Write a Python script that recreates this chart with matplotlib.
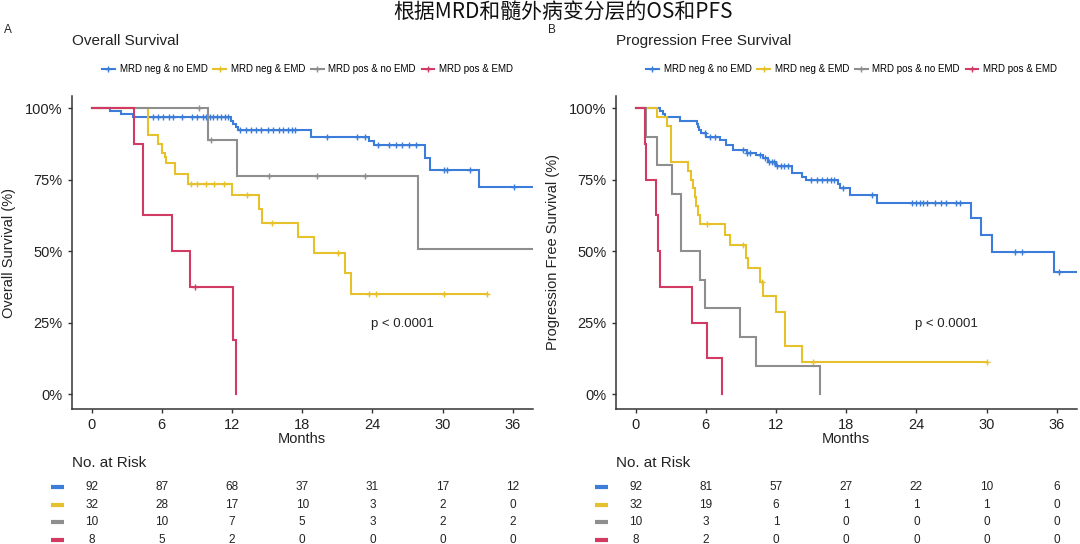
import numpy as np
import matplotlib
matplotlib.use("Agg")
import matplotlib.pyplot as plt
from matplotlib.ticker import PercentFormatter
from matplotlib.lines import Line2D

plt.rcParams['font.family'] = ['Liberation Sans', 'Noto Sans CJK SC', 'DejaVu Sans']

groups = ["MRD neg & no EMD", "MRD neg & EMD", "MRD pos & no EMD", "MRD pos & EMD"]
colors = ["#3B7DD8", "#E6C12C", "#8E8E8E", "#D13B63"]
risk_times = [0, 6, 12, 18, 24, 30, 36]

# ---- Overall survival (step times / survival, censor times)
os_blue_t = [0, 1.6, 2.5, 3.5, 11.9, 12.1, 12.3, 12.5, 18.75, 23.7, 24.1, 28.5, 28.9, 33.1, 37.7]
os_blue_s = [1.0, 0.989, 0.978, 0.967, 0.956, 0.945, 0.934, 0.923, 0.897, 0.885, 0.870, 0.827, 0.785, 0.724, 0.724]
os_blue_c = [5.25, 5.7, 6.1, 6.6, 7.0, 7.7, 8.6, 9.05, 9.5, 9.8, 10.1, 10.4, 10.7, 11.1, 11.4, 11.7,
             12.7, 13.2, 13.6, 14.05, 14.5, 15.1, 15.5, 16.0, 16.4, 16.8, 17.1, 17.4,
             20.1, 22.7, 23.4, 24.5, 25.4, 26.0, 26.5, 27.1, 27.7, 30.1, 30.35, 32.3, 36.1]

os_yellow_t = [0, 4.8, 5.7, 6.0, 6.25, 6.4, 7.1, 8.2, 12.0, 14.35, 14.6, 17.6, 19.05, 21.7, 22.2, 33.8]
os_yellow_s = [1.0, 0.906, 0.875, 0.844, 0.828, 0.807, 0.77, 0.735, 0.696, 0.646, 0.599, 0.55, 0.492, 0.422, 0.35, 0.35]
os_yellow_c = [8.5, 9.05, 9.8, 10.5, 11.3, 13.3, 15.4, 21.1, 23.7, 24.3, 30.1, 33.8]

os_gray_t = [0, 9.94, 12.4, 27.9, 37.7]
os_gray_s = [1.0, 0.889, 0.762, 0.508, 0.508]
os_gray_c = [9.15, 10.2, 15.2, 19.3, 23.4]

os_red_t = [0, 3.6, 4.4, 6.9, 8.4, 12.1, 12.3]
os_red_s = [1.0, 0.875, 0.625, 0.5, 0.375, 0.1875, 0.0]
os_red_c = [8.8]

os_risk = [[92, 87, 68, 37, 31, 17, 12],
           [32, 28, 17, 10, 3, 2, 0],
           [10, 10, 7, 5, 3, 2, 2],
           [8, 5, 2, 0, 0, 0, 0]]

# ---- Progression free survival
pfs_blue_t = [0, 2.05, 2.3, 2.5, 3.76, 5.24, 5.35, 5.45, 5.6, 6.0, 7.2, 7.75, 8.3, 9.5, 10.3, 10.9, 11.3,
              12.0, 13.4, 14.2, 14.6, 17.3, 17.5, 18.3, 20.6, 28.7, 29.5, 30.5, 35.8, 37.7]
pfs_blue_s = [1.0, 0.989, 0.978, 0.967, 0.956, 0.945, 0.934, 0.922, 0.911, 0.9, 0.889, 0.872, 0.853, 0.842,
              0.836, 0.825, 0.813, 0.799, 0.772, 0.76, 0.748, 0.735, 0.722, 0.695, 0.667, 0.615, 0.556,
              0.497, 0.427, 0.427]
pfs_blue_c = [5.9, 6.4, 6.8, 9.2, 9.5, 9.8, 10.6, 11.1, 11.4, 11.7, 11.8, 12.1, 12.4, 12.7, 13.0,
              15.0, 15.5, 15.9, 16.4, 16.7, 17.0, 17.7, 20.2, 23.6, 24.0, 24.3, 24.6, 24.9, 25.6,
              26.1, 26.5, 27.4, 27.7, 32.4, 33.0, 36.2]

pfs_yellow_t = [0, 1.8, 2.7, 3.0, 4.45, 4.74, 4.9, 5.05, 5.2, 5.35, 5.5, 7.6, 8.1, 9.4, 9.6, 10.65,
                10.9, 12.0, 12.8, 14.25, 30.05]
pfs_yellow_s = [1.0, 0.969, 0.938, 0.8125, 0.781, 0.75, 0.719, 0.688, 0.656, 0.625, 0.594, 0.556,
                0.521, 0.475, 0.44, 0.393, 0.344, 0.288, 0.169, 0.111, 0.111]
pfs_yellow_c = [6.1, 9.2, 10.78, 15.2, 30.05]

pfs_gray_t = [0, 0.92, 1.8, 3.1, 3.86, 5.48, 5.95, 8.9, 10.3, 15.75]
pfs_gray_s = [1.0, 0.9, 0.8, 0.7, 0.5, 0.4, 0.3, 0.2, 0.1, 0.0]
pfs_gray_c = []

pfs_red_t = [0, 0.77, 0.92, 1.77, 1.92, 2.05, 4.84, 6.12, 7.35]
pfs_red_s = [1.0, 0.875, 0.75, 0.625, 0.5, 0.375, 0.25, 0.125, 0.0]
pfs_red_c = []

pfs_risk = [[92, 81, 57, 27, 22, 10, 6],
            [32, 19, 6, 1, 1, 1, 0],
            [10, 3, 1, 0, 0, 0, 0],
            [8, 2, 0, 0, 0, 0, 0]]

os_curves = [(os_blue_t, os_blue_s, os_blue_c), (os_yellow_t, os_yellow_s, os_yellow_c),
             (os_gray_t, os_gray_s, os_gray_c), (os_red_t, os_red_s, os_red_c)]
pfs_curves = [(pfs_blue_t, pfs_blue_s, pfs_blue_c), (pfs_yellow_t, pfs_yellow_s, pfs_yellow_c),
              (pfs_gray_t, pfs_gray_s, pfs_gray_c), (pfs_red_t, pfs_red_s, pfs_red_c)]

W, H = 1080, 544
fig = plt.figure(figsize=(W / 100, H / 100), dpi=100)
txt = "#222222"


def km_panel(x0, curves, risk, title, ylabel, letter, letter_x):
    ax = fig.add_axes([x0 / W, 1 - 409 / H, 461 / W, 313 / H])
    for (t, s, c), col in zip(curves, colors):
        ax.step(t, s, where="post", color=col, lw=1.5, solid_joinstyle="miter")
        if len(c):
            idx = np.searchsorted(t, c, side="right") - 1
            ax.plot(c, np.array(s)[idx], ls="none", marker="+", ms=5, mew=1, color=col)
    ax.set_xlim(-1.7, 37.7)
    ax.set_ylim(-0.052, 1.042)
    ax.set_xticks(risk_times)
    ax.set_yticks([0, 0.25, 0.5, 0.75, 1.0])
    ax.yaxis.set_major_formatter(PercentFormatter(1.0, decimals=0))
    for sp in ["top", "right"]:
        ax.spines[sp].set_visible(False)
    for sp in ["left", "bottom"]:
        ax.spines[sp].set_color("#333333")
        ax.spines[sp].set_linewidth(1.1)
    ax.tick_params(labelsize=10.5, colors="#333333", labelcolor=txt, length=3, width=1)
    ax.set_xlabel("Months", fontsize=10.5, color=txt, labelpad=0)
    ax.set_ylabel(ylabel, fontsize=10.5, color=txt)
    ax.yaxis.set_label_coords(-0.12, 0.5)
    ax.text(26.6, 0.245, "p < 0.0001", fontsize=9.5, color=txt, ha="center", va="center")

    fig.text(x0 / W, 1 - 41 / H, title, fontsize=11, color=txt, va="center")
    fig.text(letter_x / W, 1 - 30 / H, letter, fontsize=8.5, color=txt, va="center")

    handles = [Line2D([], [], color=col, lw=1.5, marker="+", ms=5, mew=1) for col in colors]
    ax.legend(handles, groups, loc="center", bbox_to_anchor=((x0 + 236) / W, 1 - 69 / H),
              bbox_transform=fig.transFigure, ncol=4, frameon=False, fontsize=7,
              handlelength=1.3, handletextpad=0.5, columnspacing=0.6)

    # number at risk table
    fig.text(x0 / W, 1 - 463 / H, "No. at Risk", fontsize=11, color=txt, va="center")
    rt = fig.add_axes([x0 / W, 0, 461 / W, 66 / H])
    rt.set_xlim(-1.7, 37.7)
    rt.set_ylim(3.23, -0.51)
    rt.axis("off")
    for r, (row, col) in enumerate(zip(risk, colors)):
        rt.plot([-3.45, -2.35], [r, r], color=col, lw=3, solid_capstyle="butt", clip_on=False)
        for tm, n in zip(risk_times, row):
            rt.text(tm, r, str(n), fontsize=8.5, color=txt, ha="center", va="center", clip_on=False)
    return ax


km_panel(71.7, os_curves, os_risk, "Overall Survival", "Overall Survival (%)", "A", 4)
km_panel(615.7, pfs_curves, pfs_risk, "Progression Free Survival", "Progression Free Survival (%)", "B", 548)

fig.text(0.521, 1 - 12 / H, "根据MRD和髓外病变分层的OS和PFS", fontsize=15, color="#111111",
         ha="center", va="center", family=["Noto Sans CJK SC", "DejaVu Sans"])

fig.savefig("out.png", dpi=100, facecolor="white")
